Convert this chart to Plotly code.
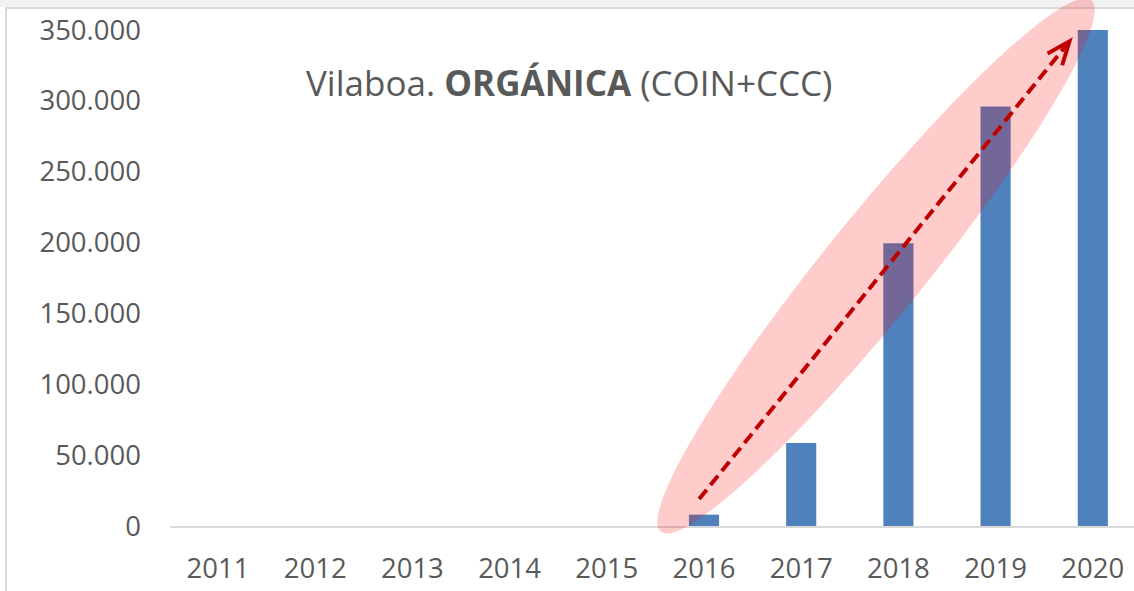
import math
import plotly.graph_objects as go

# ---- data ----
years = [2011, 2012, 2013, 2014, 2015, 2016, 2017, 2018, 2019, 2020]
values = [0, 0, 0, 0, 0, 8000, 58500, 199500, 296000, 350000]
y_ticks = [0, 50000, 100000, 150000, 200000, 250000, 300000, 350000]
title_text = "Vilaboa. <b>ORGÁNICA</b> (COIN+CCC)"

# ---- layout geometry (pixels) ----
W, H = 1134, 591
ML, MR, MT, MB = 170, 0, 30, 65
PW, PH = W - ML - MR, H - MT - MB
X0_PX, STEP_PX = 218, 97.2          # pixel centre of first category, spacing
x_range = [years[0] - (X0_PX - ML) / STEP_PX, years[0] + (W - MR - X0_PX) / STEP_PX]
y_range = [0, 350000]

def px_to_paper(px, py):
    return (px - ML) / PW, (H - MB - py) / PH

def data_to_px(x, y):
    px = ML + (x - x_range[0]) / (x_range[1] - x_range[0]) * PW
    py = H - MB - (y - y_range[0]) / (y_range[1] - y_range[0]) * PH
    return px, py

TXT = "#595959"
FONT = "Open Sans"

fig = go.Figure()
fig.add_trace(go.Bar(
    x=years, y=values, width=0.31,
    marker=dict(color="#4F81BD", line=dict(width=0)),
    hoverinfo="x+y",
))

shapes = []
# window-like frame decoration
shapes.append(dict(type="rect", xref="paper", yref="paper",
                   x0=px_to_paper(0, 0)[0], x1=px_to_paper(W, 0)[0],
                   y0=px_to_paper(0, 0)[1], y1=px_to_paper(0, 7)[1],
                   fillcolor="#f2f2f2", line=dict(width=0), layer="below"))
shapes.append(dict(type="line", xref="paper", yref="paper",
                   x0=px_to_paper(5, 0)[0], x1=px_to_paper(W, 0)[0],
                   y0=px_to_paper(0, 8)[1], y1=px_to_paper(0, 8)[1],
                   line=dict(color="#d9d9d9", width=2)))
shapes.append(dict(type="line", xref="paper", yref="paper",
                   x0=px_to_paper(6, 0)[0], x1=px_to_paper(6, 0)[0],
                   y0=px_to_paper(0, 8)[1], y1=px_to_paper(0, H)[1],
                   line=dict(color="#d9d9d9", width=2)))

# highlight ellipse (rotated), built in pixel space
cx, cy = 876, 266
a, b = 342, 50
ang = math.radians(51)
pts = []
for k in range(121):
    t = 2 * math.pi * k / 120
    ex, ey = a * math.cos(t), b * math.sin(t)
    px = cx + ex * math.cos(ang) - ey * math.sin(ang)
    py = cy - (ex * math.sin(ang) + ey * math.cos(ang))
    pts.append(px_to_paper(px, py))
path = "M " + " L ".join(f"{x:.5f},{y:.5f}" for x, y in pts) + " Z"
shapes.append(dict(type="path", xref="paper", yref="paper", path=path,
                   fillcolor="rgba(255,0,0,0.2)", line=dict(width=0), layer="above"))

# dashed trend arrow
ax0, ay0 = 2015.95, 19000
ax1, ay1 = 2019.76, 342000
p0 = px_to_paper(*data_to_px(ax0, ay0))
tip_px = data_to_px(ax1, ay1)
st_px = data_to_px(ax0, ay0)
dx, dy = tip_px[0] - st_px[0], tip_px[1] - st_px[1]
L = math.hypot(dx, dy)
ux, uy = dx / L, dy / L
end_px = (tip_px[0] - 3 * ux, tip_px[1] - 3 * uy)
pe = px_to_paper(*end_px)
shapes.append(dict(type="line", xref="paper", yref="paper",
                   x0=p0[0], y0=p0[1], x1=pe[0], y1=pe[1],
                   line=dict(color="#C00000", width=4, dash="12px,6px")))
# chevron head
back = math.atan2(-uy, -ux)
arms = []
for da in (math.radians(22), math.radians(-22)):
    arms.append((tip_px[0] + 25 * math.cos(back + da), tip_px[1] + 25 * math.sin(back + da)))
hp = [px_to_paper(*arms[0]), px_to_paper(*tip_px), px_to_paper(*arms[1])]
shapes.append(dict(type="path", xref="paper", yref="paper",
                   path=f"M {hp[0][0]:.5f},{hp[0][1]:.5f} L {hp[1][0]:.5f},{hp[1][1]:.5f} L {hp[2][0]:.5f},{hp[2][1]:.5f}",
                   line=dict(color="#C00000", width=4), fillcolor="rgba(0,0,0,0)"))

tx, ty = px_to_paper(569, 82)
fig.update_layout(
    width=W, height=H,
    margin=dict(l=ML, r=MR, t=MT, b=MB, pad=0),
    paper_bgcolor="white", plot_bgcolor="white",
    separators=",.",
    showlegend=False,
    font=dict(family=FONT, color=TXT, size=27),
    shapes=shapes,
    annotations=[dict(text=title_text, xref="paper", yref="paper", x=tx, y=ty,
                      xanchor="center", yanchor="middle", showarrow=False,
                      font=dict(family=FONT, size=35, color=TXT))],
    xaxis=dict(range=x_range, tickmode="array", tickvals=years,
               ticktext=[str(y) for y in years],
               showgrid=False, zeroline=False, showline=True,
               linecolor="#d9d9d9", linewidth=2, ticks="",
               ticklabelstandoff=17, tickfont=dict(size=27.5, color=TXT)),
    yaxis=dict(range=y_range, tickmode="array", tickvals=y_ticks,
               tickformat=",d", showgrid=False, zeroline=False, showline=False,
               ticks="", ticklabelstandoff=28, tickfont=dict(size=27.5, color=TXT)),
)

fig.write_html("out.html", config={"displayModeBar": False},
               post_script="document.body.style.margin='0';document.body.style.overflow='hidden';")
